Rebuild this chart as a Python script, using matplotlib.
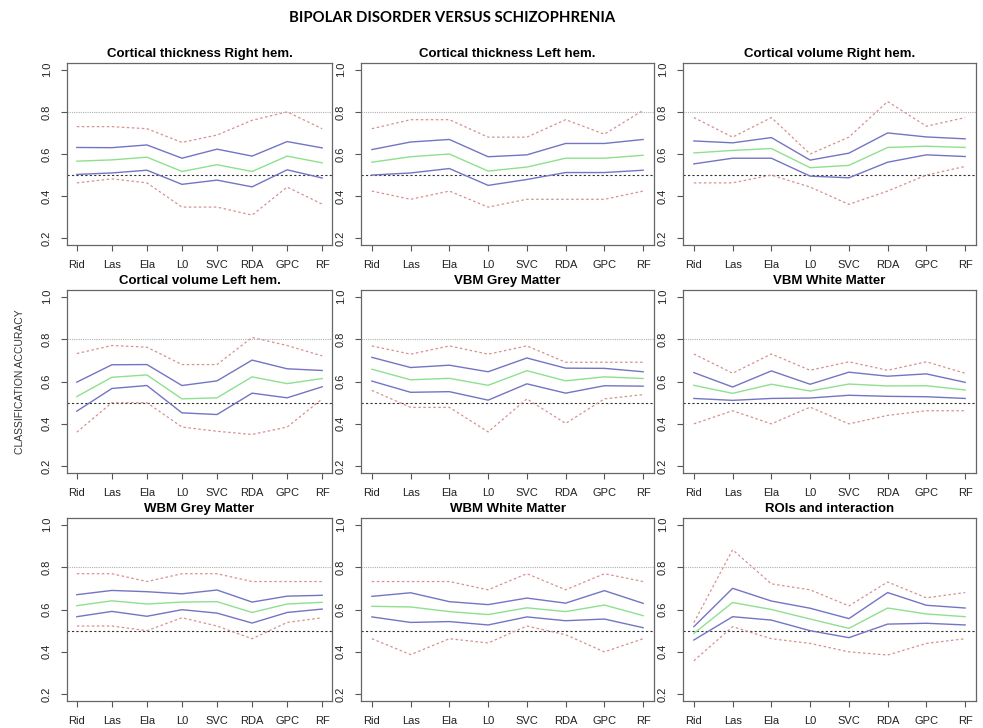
import matplotlib
matplotlib.use("Agg")
import matplotlib.pyplot as plt

plt.rcParams["font.family"] = ["Liberation Sans", "DejaVu Sans"]

methods = ["Rid", "Las", "Ela", "L0", "SVC", "RDA", "GPC", "RF"]

titles = ["Cortical thickness Right hem.", "Cortical thickness Left hem.",
          "Cortical volume Right hem.", "Cortical volume Left hem.",
          "VBM Grey Matter", "VBM White Matter",
          "WBM Grey Matter", "WBM White Matter", "ROIs and interaction"]

# per panel: max, mean+sd, mean, mean-sd, min
ct_right_max = [0.73, 0.73, 0.72, 0.655, 0.69, 0.76, 0.80, 0.72]
ct_right_hi = [0.631, 0.63, 0.643, 0.58, 0.623, 0.59, 0.659, 0.629]
ct_right_mean = [0.566, 0.572, 0.585, 0.517, 0.549, 0.517, 0.59, 0.558]
ct_right_lo = [0.503, 0.51, 0.523, 0.456, 0.476, 0.444, 0.525, 0.486]
ct_right_min = [0.463, 0.482, 0.463, 0.348, 0.348, 0.31, 0.443, 0.362]

ct_left_max = [0.72, 0.763, 0.763, 0.68, 0.68, 0.763, 0.694, 0.807]
ct_left_hi = [0.621, 0.657, 0.669, 0.587, 0.596, 0.65, 0.65, 0.669]
ct_left_mean = [0.561, 0.587, 0.60, 0.519, 0.538, 0.58, 0.58, 0.594]
ct_left_lo = [0.50, 0.51, 0.531, 0.451, 0.479, 0.512, 0.512, 0.523]
ct_left_min = [0.424, 0.385, 0.424, 0.348, 0.385, 0.385, 0.385, 0.424]

cv_right_max = [0.773, 0.68, 0.773, 0.60, 0.68, 0.849, 0.732, 0.773]
cv_right_hi = [0.662, 0.653, 0.678, 0.571, 0.604, 0.70, 0.681, 0.672]
cv_right_mean = [0.605, 0.617, 0.626, 0.535, 0.546, 0.631, 0.637, 0.631]
cv_right_lo = [0.553, 0.58, 0.58, 0.495, 0.487, 0.561, 0.596, 0.588]
cv_right_min = [0.463, 0.463, 0.50, 0.443, 0.361, 0.424, 0.50, 0.541]

cv_left_max = [0.732, 0.77, 0.762, 0.68, 0.68, 0.808, 0.77, 0.721]
cv_left_hi = [0.597, 0.679, 0.68, 0.581, 0.603, 0.701, 0.66, 0.652]
cv_left_mean = [0.529, 0.62, 0.631, 0.518, 0.523, 0.622, 0.59, 0.614]
cv_left_lo = [0.46, 0.567, 0.581, 0.452, 0.444, 0.545, 0.523, 0.575]
cv_left_min = [0.361, 0.50, 0.50, 0.385, 0.365, 0.35, 0.385, 0.518]

vbm_grey_max = [0.768, 0.729, 0.768, 0.729, 0.768, 0.691, 0.691, 0.691]
vbm_grey_hi = [0.714, 0.666, 0.677, 0.646, 0.711, 0.663, 0.662, 0.646]
vbm_grey_mean = [0.658, 0.608, 0.615, 0.582, 0.651, 0.603, 0.622, 0.614]
vbm_grey_lo = [0.602, 0.549, 0.552, 0.512, 0.589, 0.545, 0.58, 0.578]
vbm_grey_min = [0.558, 0.478, 0.478, 0.362, 0.518, 0.402, 0.518, 0.538]

vbm_white_max = [0.73, 0.639, 0.73, 0.653, 0.693, 0.653, 0.693, 0.639]
vbm_white_hi = [0.642, 0.574, 0.65, 0.587, 0.644, 0.625, 0.636, 0.596]
vbm_white_mean = [0.582, 0.544, 0.587, 0.555, 0.588, 0.579, 0.58, 0.56]
vbm_white_lo = [0.52, 0.511, 0.52, 0.522, 0.535, 0.53, 0.528, 0.52]
vbm_white_min = [0.40, 0.462, 0.40, 0.479, 0.40, 0.44, 0.462, 0.462]

wbm_grey_max = [0.769, 0.769, 0.732, 0.769, 0.769, 0.732, 0.732, 0.732]
wbm_grey_hi = [0.67, 0.69, 0.684, 0.674, 0.692, 0.635, 0.663, 0.667]
wbm_grey_mean = [0.618, 0.641, 0.626, 0.635, 0.637, 0.586, 0.626, 0.634]
wbm_grey_lo = [0.566, 0.591, 0.568, 0.599, 0.583, 0.536, 0.586, 0.602]
wbm_grey_min = [0.522, 0.522, 0.50, 0.561, 0.522, 0.462, 0.539, 0.561]

wbm_white_max = [0.732, 0.732, 0.732, 0.693, 0.769, 0.693, 0.769, 0.732]
wbm_white_hi = [0.662, 0.679, 0.637, 0.623, 0.654, 0.63, 0.689, 0.629]
wbm_white_mean = [0.615, 0.612, 0.59, 0.576, 0.608, 0.59, 0.621, 0.571]
wbm_white_lo = [0.565, 0.539, 0.543, 0.527, 0.565, 0.547, 0.555, 0.514]
wbm_white_min = [0.462, 0.387, 0.462, 0.442, 0.522, 0.481, 0.40, 0.462]

roi_max = [0.538, 0.882, 0.721, 0.693, 0.617, 0.73, 0.655, 0.68]
roi_hi = [0.519, 0.70, 0.64, 0.606, 0.557, 0.68, 0.62, 0.607]
roi_mean = [0.487, 0.633, 0.60, 0.555, 0.511, 0.607, 0.579, 0.566]
roi_lo = [0.456, 0.566, 0.55, 0.50, 0.467, 0.531, 0.535, 0.527]
roi_min = [0.358, 0.519, 0.462, 0.44, 0.40, 0.385, 0.44, 0.462]

panels = [
    (ct_right_max, ct_right_hi, ct_right_mean, ct_right_lo, ct_right_min),
    (ct_left_max, ct_left_hi, ct_left_mean, ct_left_lo, ct_left_min),
    (cv_right_max, cv_right_hi, cv_right_mean, cv_right_lo, cv_right_min),
    (cv_left_max, cv_left_hi, cv_left_mean, cv_left_lo, cv_left_min),
    (vbm_grey_max, vbm_grey_hi, vbm_grey_mean, vbm_grey_lo, vbm_grey_min),
    (vbm_white_max, vbm_white_hi, vbm_white_mean, vbm_white_lo, vbm_white_min),
    (wbm_grey_max, wbm_grey_hi, wbm_grey_mean, wbm_grey_lo, wbm_grey_min),
    (wbm_white_max, wbm_white_hi, wbm_white_mean, wbm_white_lo, wbm_white_min),
    (roi_max, roi_hi, roi_mean, roi_lo, roi_min),
]

W, H = 983, 728
fig = plt.figure(figsize=(W / 100, H / 100), dpi=100)

# panel frames in pixels
cols = [(67, 332), (361, 654), (683, 976)]
rows = [(63, 245), (290, 473), (518, 701)]

red = "#d89090"
blue = "#7474c4"
green = "#8ee08e"
x = list(range(1, len(methods) + 1))

for i, (mx, hi, mean, lo, mn) in enumerate(panels):
    l, r = cols[i % 3]
    t, b = rows[i // 3]
    ax = fig.add_axes([l / W, 1 - b / H, (r - l) / W, (b - t) / H])
    ax.axhline(0.8, color="#b0b0b0", lw=0.8, ls=(0, (1, 1)))
    ax.axhline(0.5, color="#333333", lw=0.8, ls=(0, (2, 2)))
    ax.plot(x, mx, color=red, lw=0.9, ls=(0, (2, 2)))
    ax.plot(x, mn, color=red, lw=0.9, ls=(0, (2, 2)))
    ax.plot(x, hi, color=blue, lw=1.0)
    ax.plot(x, lo, color=blue, lw=1.0)
    ax.plot(x, mean, color=green, lw=1.0)
    ax.set_xlim(0.72, 8.28)
    ax.set_ylim(0.168, 1.032)
    ax.set_xticks(x)
    ax.set_xticklabels(methods)
    ax.set_yticks([0.2, 0.4, 0.6, 0.8, 1.0])
    ax.set_yticklabels(["0.2", "0.4", "0.6", "0.8", "1.0"], rotation=90, va="center")
    ax.tick_params(labelsize=8, length=4, width=0.8, color="#555555",
                   labelcolor="#222222", pad=7)
    for s in ax.spines.values():
        s.set_color("#666666")
        s.set_linewidth(0.9)
    ax.set_title(titles[i], fontsize=9.5, fontweight="bold", pad=4)

fig.text(20 / W, 1 - 382 / H, "CLASSIFICATION ACCURACY", rotation=90,
         va="center", ha="center", fontsize=7.5, color="#333333")
fig.text(452 / W, 1 - 18 / H, "BIPOLAR DISORDER VERSUS SCHIZOPHRENIA",
         ha="center", va="center", fontsize=10.7, fontweight="bold",
         family="Lato")

fig.savefig("out.png", dpi=100)
